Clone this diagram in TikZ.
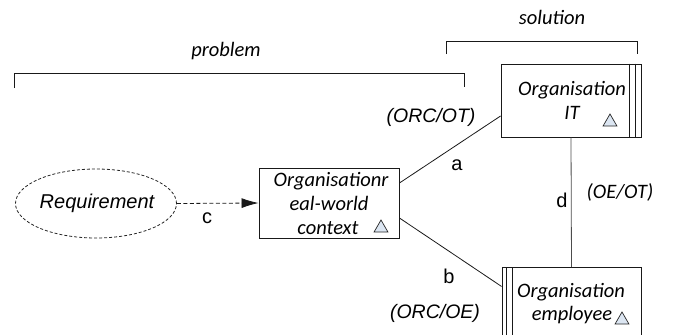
\documentclass[tikz,border=0pt]{standalone}
\usepackage{fontspec}
\setmainfont{Carlito}
\newfontfamily\arialf{Liberation Sans}
\usetikzlibrary{shapes.geometric,arrows.meta}
\definecolor{triblue}{HTML}{DCE6F2}
\begin{document}
\begin{tikzpicture}[x=1pt,y=-1pt,
  box/.style={draw=black!90,line width=0.9pt,rectangle,inner sep=0pt},
  ctext/.style={font=\fontsize{20.5}{24}\selectfont\itshape,anchor=base,inner sep=0pt},
  atext/.style={font=\arialf\fontsize{19.5}{23}\selectfont\itshape,anchor=base,inner sep=0pt},
  lett/.style={font=\arialf\fontsize{20}{24}\selectfont,anchor=base,inner sep=0pt},
  tria/.style={draw=black!85,fill=triblue,regular polygon,regular polygon sides=3,minimum size=16pt,inner sep=0pt,line width=0.7pt},
  brk/.style={draw=black!90,line width=0.9pt},
  conn/.style={draw=black!90,line width=0.8pt}]
\useasboundingbox (0,0) rectangle (673,335);

% brackets
\draw[brk] (14,88) -- (14,73) -- (464,73) -- (464,87);
\draw[brk] (446,54) -- (446,41) -- (637,41) -- (637,54);
\node[ctext] (tprob) at (226,56.5) {problem};
\node[ctext] (tsol) at (552,24) {solution};

% requirement
\node[draw=black!85,line width=0.8pt,dash pattern=on 3pt off 2pt,ellipse,minimum width=161pt,minimum height=69pt,inner sep=0pt] (req) at (96,203.5) {};
\node[atext,font=\arialf\fontsize{20}{24}\selectfont\itshape] (treq) at (97,208) {Requirement};

% context box
\node[box,minimum width=140pt,minimum height=70pt] (ctx) at (329,203) {};
\node[ctext] (ctx1) at (331,186) {Organisationr};
\node[ctext] (ctx2) at (329,210) {eal-world};
\node[ctext] (ctx3) at (328,234) {context};
\node[tria] (ctxtri) at (381,228) {};

% IT box
\node[box,minimum width=140pt,minimum height=73pt] (it) at (571,100.5) {};
\draw[box] ([xshift=-12pt]it.north east) -- ([xshift=-12pt]it.south east);
\draw[box] ([xshift=-6pt]it.north east) -- ([xshift=-6pt]it.south east);
\node[ctext] (it1) at (572,95) {Organisation};
\node[ctext] (it2) at (572,119) {IT};
\node[tria] (ittri) at (610,122) {};

% employee box
\node[box,anchor=north,minimum width=139pt,minimum height=80pt] (emp) at (571.5,267) {};
\draw[box] ([xshift=5pt]emp.north west) -- ([xshift=5pt]emp.south west);
\draw[box] ([xshift=11pt]emp.north west) -- ([xshift=11pt]emp.south west);
\node[ctext] (emp1) at (571,297) {Organisation};
\node[ctext] (emp2) at (572,320) {employee};
\node[tria] (emptri) at (622,320) {};

% connectors
\draw[conn,dash pattern=on 4pt off 2.5pt,-{Latex[length=17pt,width=10pt]}] (req.east) -- (ctx.west);
\draw[conn] ([yshift=20pt]ctx.east) -- ([yshift=-15.5pt]it.west);
\draw[conn] ([yshift=-15pt]ctx.east) -- ([yshift=21pt]emp.west);
\draw[conn,draw=black!70] (it.south) -- (emp.north);

% labels
\node[lett] (lc) at (207,223) {c};
\node[lett] (la) at (457,170) {a};
\node[lett] (lb) at (449,283) {b};
\node[lett] (ld) at (562,207) {d};
\node[atext] (lorcot) at (431,122) {(ORC/OT)};
\node[atext] (lorcoe) at (435,318) {(ORC/OE)};
\node[ctext] (loeot) at (620,198) {(OE/OT)};
\end{tikzpicture}
\end{document}
